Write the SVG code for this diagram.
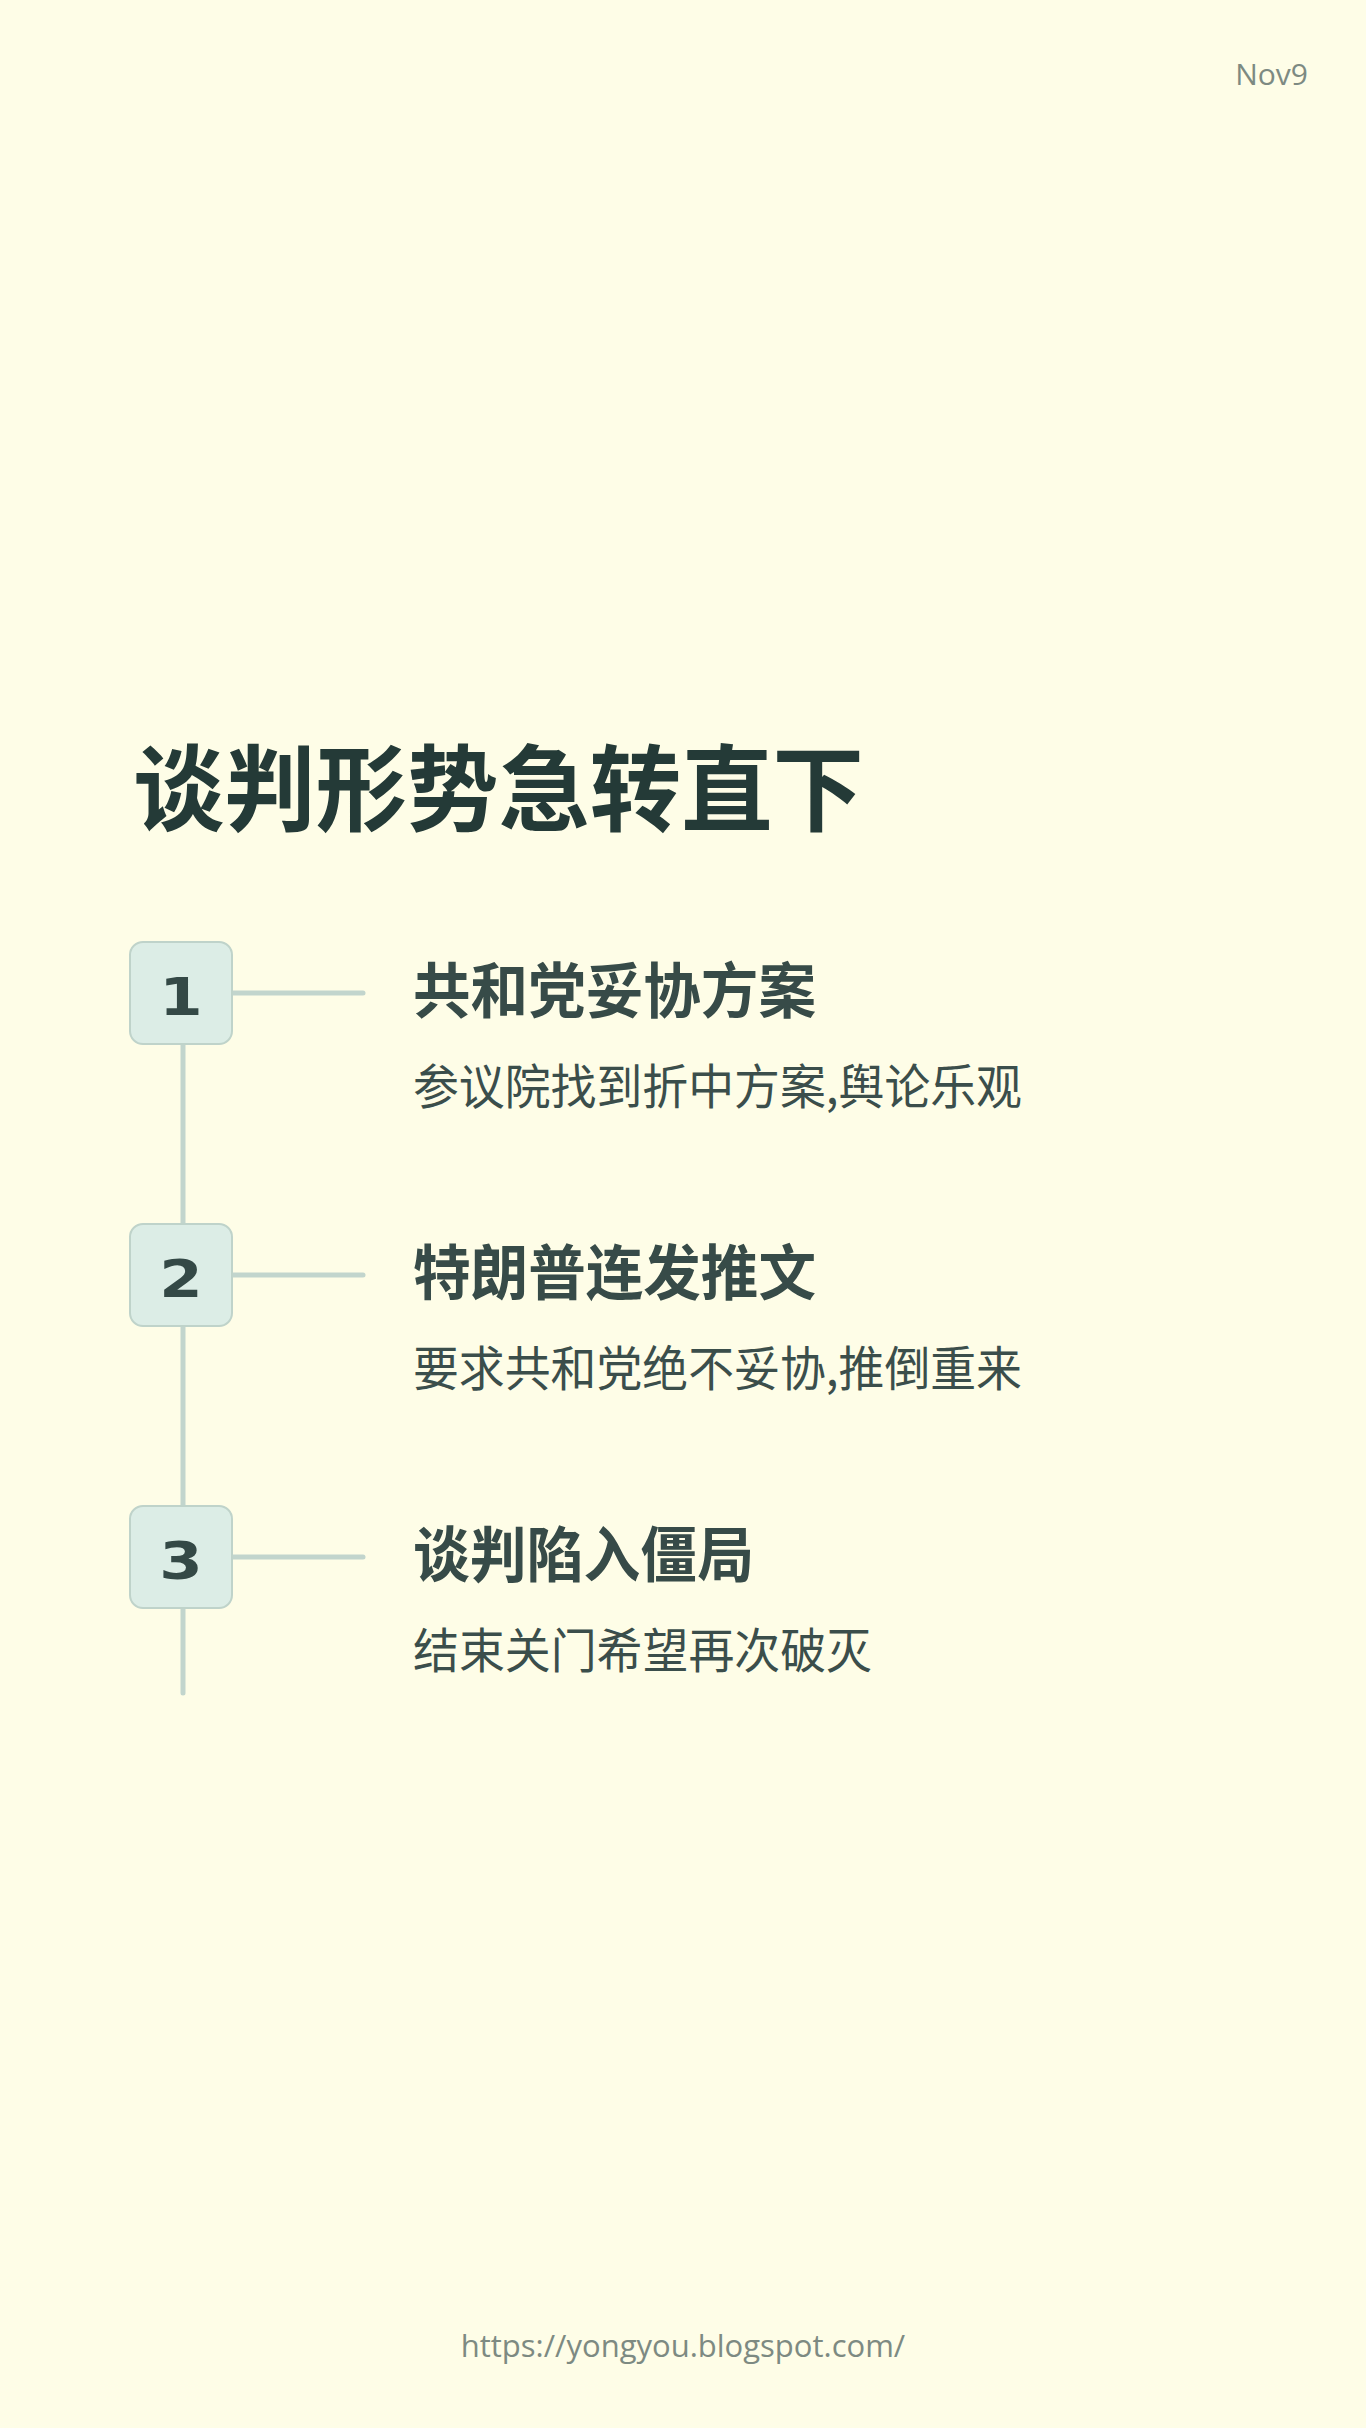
<svg xmlns="http://www.w3.org/2000/svg" width="1366" height="2428" viewBox="0 0 1366 2428">
<style>
.cjk{font-family:"Noto Sans CJK SC","Noto Sans",sans-serif}
.title{font-size:94px;font-weight:700;fill:#243a37}
.head{font-size:60px;font-weight:700;fill:#374b48}
.sub{font-size:48px;font-weight:400;fill:#3b4e4b}
.box{fill:#dcede6;stroke:#bfd3ca;stroke-width:2}
.num{font-family:"DejaVu Sans",sans-serif;font-weight:700;font-size:52px;fill:#344946}
.line{stroke:#c2d5cd;stroke-width:5;stroke-linecap:round;fill:none}
.meta{font-family:"Open Sans","Noto Sans",sans-serif;fill:#7d8a82}
</style>
<rect width="1366" height="2428" fill="#fefde7"/>
<text class="meta" x="1308" y="85" font-size="30" text-anchor="end">Nov9</text>
<text class="cjk title" x="133" y="824" textLength="731" lengthAdjust="spacingAndGlyphs">谈判形势急转直下</text>
<g id="connectors">
<line class="line" x1="183" y1="1044" x2="183" y2="1693"/>
<line class="line" x1="232" y1="993" x2="363" y2="993"/>
<line class="line" x1="232" y1="1275" x2="363" y2="1275"/>
<line class="line" x1="232" y1="1557" x2="363" y2="1557"/>
</g>
<g id="step1">
<rect class="box" x="130" y="942" width="102" height="102" rx="13"/>
<text class="num" x="181" y="1015" text-anchor="middle" transform="translate(181 0) scale(1.2 1) translate(-181 0)">1</text>
<text class="cjk head" x="413" y="1013" textLength="403" lengthAdjust="spacingAndGlyphs">共和党妥协方案</text>
<text class="cjk sub" x="413" y="1104" textLength="609" lengthAdjust="spacingAndGlyphs">参议院找到折中方案,舆论乐观</text>
</g>
<g id="step2">
<rect class="box" x="130" y="1224" width="102" height="102" rx="13"/>
<text class="num" x="181" y="1297" text-anchor="middle" transform="translate(181 0) scale(1.2 1) translate(-181 0)">2</text>
<text class="cjk head" x="413" y="1295" textLength="403" lengthAdjust="spacingAndGlyphs">特朗普连发推文</text>
<text class="cjk sub" x="413" y="1386" textLength="609" lengthAdjust="spacingAndGlyphs">要求共和党绝不妥协,推倒重来</text>
</g>
<g id="step3">
<rect class="box" x="130" y="1506" width="102" height="102" rx="13"/>
<text class="num" x="181" y="1579" text-anchor="middle" transform="translate(181 0) scale(1.2 1) translate(-181 0)">3</text>
<text class="cjk head" x="413" y="1577" textLength="341" lengthAdjust="spacingAndGlyphs">谈判陷入僵局</text>
<text class="cjk sub" x="413" y="1668" textLength="459" lengthAdjust="spacingAndGlyphs">结束关门希望再次破灭</text>
</g>
<text class="meta" x="683" y="2357" font-size="31" text-anchor="middle">https://yongyou.blogspot.com/</text>
</svg>
